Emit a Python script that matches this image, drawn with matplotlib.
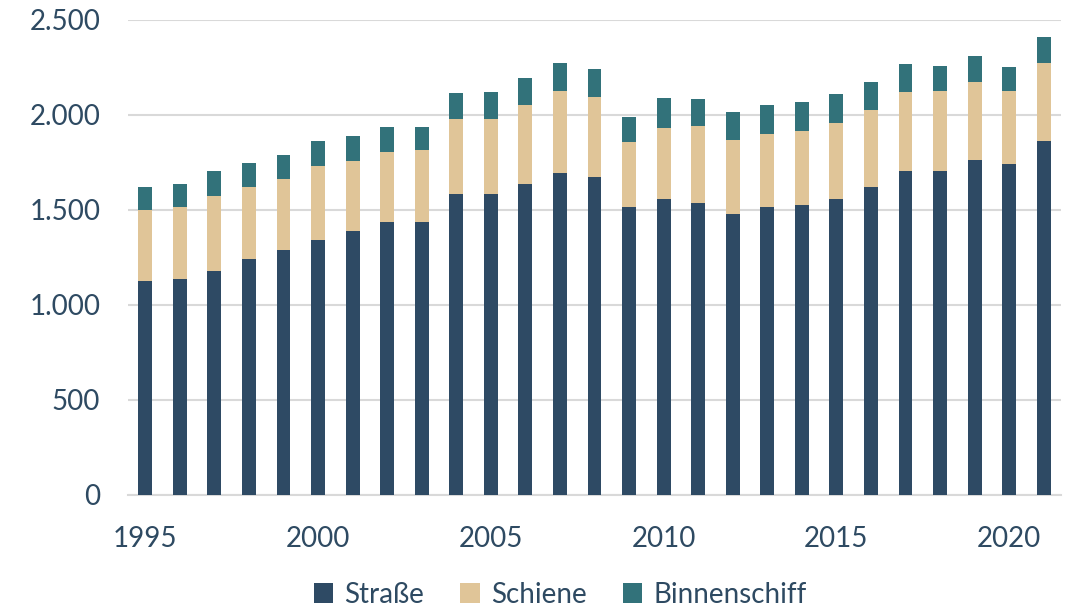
import matplotlib.pyplot as plt
import matplotlib.ticker as mticker
import numpy as np

# Güterverkehrsleistung nach Verkehrsträger
jahre = list(range(1995, 2022))
strasse = [1125, 1135, 1181, 1240, 1291, 1342, 1388, 1439, 1439, 1586,
           1586, 1637, 1695, 1674, 1514, 1556, 1539, 1481, 1514, 1526,
           1560, 1619, 1707, 1707, 1763, 1744, 1862]
schiene = [375, 379, 394, 379, 370, 388, 370, 366, 377, 393,
           395, 416, 433, 422, 344, 377, 403, 386, 388, 390,
           400, 409, 412, 419, 409, 380, 410]
binnenschiff = [123, 121, 129, 130, 128, 135, 133, 133, 122, 136,
                140, 140, 144, 148, 133, 155, 142, 150, 151, 152,
                149, 146, 148, 132, 140, 130, 137]

farben = ['#2E4A64', '#E0C598', '#32727A']
textfarbe = '#2E4A62'

plt.rcParams['font.family'] = ['Lato', 'DejaVu Sans']

fig = plt.figure(figsize=(10.73, 6.13), dpi=100)
ax = fig.add_axes([0.1193, 0.1925, 0.8695, 0.7749])

x = np.arange(len(jahre))
s = np.array(strasse)
sc = np.array(schiene)
b = np.array(binnenschiff)
w = 0.4
ax.bar(x, s, w, color=farben[0], label='Straße', zorder=3)
ax.bar(x, sc, w, bottom=s, color=farben[1], label='Schiene', zorder=3)
ax.bar(x, b, w, bottom=s + sc, color=farben[2], label='Binnenschiff', zorder=3)

ax.set_xlim(-0.5, len(jahre) - 0.5)
ax.set_ylim(0, 2500)
ax.set_yticks(range(0, 2501, 500))
ax.yaxis.set_major_formatter(mticker.FuncFormatter(lambda v, p: f'{int(v):,}'.replace(',', '.')))
idx = [i for i, j in enumerate(jahre) if j % 5 == 0]
ax.set_xticks(idx)
ax.set_xticklabels([str(jahre[i]) for i in idx])

ax.grid(axis='y', color='#D9D9D9', linewidth=1.5, zorder=0)
for sp in ['top', 'right', 'left']:
    ax.spines[sp].set_visible(False)
ax.spines['bottom'].set_color('#D9D9D9')
ax.spines['bottom'].set_linewidth(1.5)
ax.tick_params(axis='both', length=0, labelsize=20, labelcolor=textfarbe)
ax.tick_params(axis='x', pad=22)
ax.tick_params(axis='y', pad=20)

fig.legend(loc='lower center', bbox_to_anchor=(0.522, -0.032), ncol=3, frameon=False,
           fontsize=20, labelcolor=textfarbe, handlelength=0.7, handleheight=0.7,
           handletextpad=0.4, columnspacing=1.3)

fig.savefig('out.png', dpi=100)
